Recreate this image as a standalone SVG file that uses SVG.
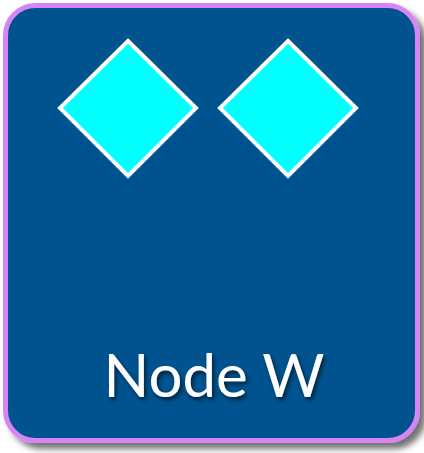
<svg xmlns="http://www.w3.org/2000/svg" width="424" height="453" viewBox="0 0 424 453">
  <defs>
    <filter id="drop" x="-10%" y="-10%" width="125%" height="125%">
      <feGaussianBlur in="SourceAlpha" stdDeviation="3"/>
      <feOffset dx="6" dy="6" result="b"/>
      <feComponentTransfer><feFuncA type="linear" slope="0.55"/></feComponentTransfer>
      <feMerge><feMergeNode/><feMergeNode in="SourceGraphic"/></feMerge>
    </filter>
    <filter id="textShadow" x="-10%" y="-20%" width="130%" height="150%">
      <feGaussianBlur in="SourceAlpha" stdDeviation="2"/>
      <feOffset dx="2" dy="3"/>
      <feComponentTransfer><feFuncA type="linear" slope="0.6"/></feComponentTransfer>
      <feMerge><feMergeNode/><feMergeNode in="SourceGraphic"/></feMerge>
    </filter>
    <style>
      .frame { fill: #02528f; stroke: #d784f4; stroke-width: 5; }
      .gem { fill: #00ffff; stroke: #ffffff; stroke-width: 4; }
      .label { font-family: Lato, "Open Sans", sans-serif; font-size: 60px; fill: #ffffff; text-anchor: middle; }
    </style>
  </defs>
  <g id="node-w">
    <rect class="frame" x="5.5" y="5.5" width="412" height="435" rx="30" ry="30" filter="url(#drop)"/>
    <polygon class="gem" points="128,41 196,108 128,176 60,108"/>
    <polygon class="gem" points="288,41 356,108 288,176 220,108"/>
    <text class="label" x="214" y="397" filter="url(#textShadow)">Node W</text>
  </g>
</svg>
